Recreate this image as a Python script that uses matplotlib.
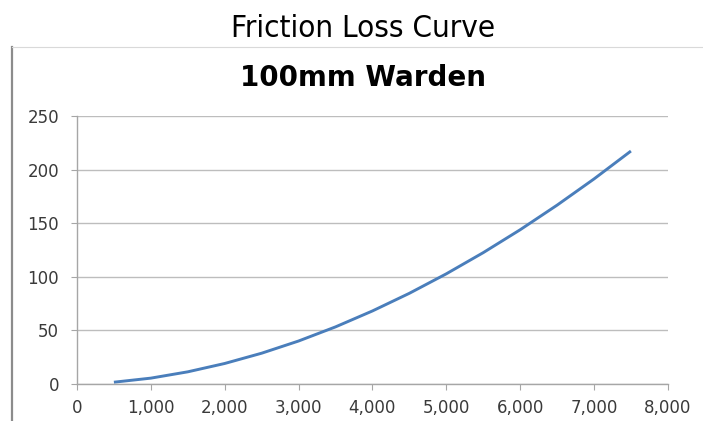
import matplotlib
matplotlib.use("Agg")
import matplotlib.pyplot as plt
from matplotlib.lines import Line2D
from matplotlib.ticker import FuncFormatter

# flow rate vs friction loss
flow = [500, 1000, 1500, 2000, 2500, 3000, 3500, 4000,
        4500, 5000, 5500, 6000, 6500, 7000, 7500]
loss = [1.4, 5.2, 11.1, 18.9, 28.5, 39.9, 53.1, 68.0,
        84.5, 102.7, 122.5, 143.9, 166.9, 191.4, 217.5]

x_ticks = [0, 1000, 2000, 3000, 4000, 5000, 6000, 7000, 8000]
y_ticks = [0, 50, 100, 150, 200, 250]

fig = plt.figure(figsize=(7.03, 4.21), dpi=100)
ax = fig.add_axes([0.1095, 0.0886, 0.8405, 0.6352])

ax.plot(flow, loss, color="#4a7ebb", lw=2.1, solid_capstyle="butt")

ax.set_xlim(0, 8000)
ax.set_ylim(0, 250)
ax.set_xticks(x_ticks)
ax.set_yticks(y_ticks)
ax.xaxis.set_major_formatter(FuncFormatter(lambda v, p: f"{int(v):,}"))
ax.yaxis.grid(True, color="#bdbdbd", lw=1.0)
ax.set_axisbelow(True)

for s in ["top", "right"]:
    ax.spines[s].set_visible(False)
for s in ["left", "bottom"]:
    ax.spines[s].set_color("#a6a6a6")
    ax.spines[s].set_linewidth(1.0)
ax.tick_params(axis="both", colors="#a6a6a6", labelcolor="#3a3a3a",
               labelsize=12, length=4, direction="out")
ax.tick_params(axis="x", pad=7)
ax.tick_params(axis="y", pad=9)

fig.text(0.516, 0.932, "Friction Loss Curve", ha="center", va="center",
         fontsize=22.5, family="DejaVu Sans", fontstretch="condensed")
fig.text(0.517, 0.814, "100mm Warden", ha="center", va="center",
         fontsize=20, fontweight="bold")

# frame of the embedded chart
fig.add_artist(Line2D([0.017, 0.017], [0.0, 0.888], color="#8c8c8c", lw=1.6))
fig.add_artist(Line2D([0.017, 1.0], [0.888, 0.888], color="#d9d9d9", lw=0.8))

fig.savefig("out.png", dpi=100)
